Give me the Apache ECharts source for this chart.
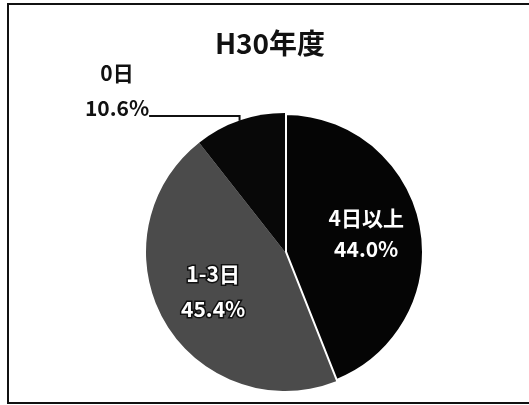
<!DOCTYPE html>
<html>
<head>
<meta charset="utf-8">
<script src="https://cdn.jsdelivr.net/npm/echarts@6/dist/echarts.min.js"></script>
<style>
	html, body { margin: 0; padding: 0; background: #fff; overflow: hidden; }
	#chart { position: absolute; left: 7px; top: 3px; width: 540px; height: 401px; border: 2px solid #111; box-sizing: border-box; }
</style>
</head>
<body>
<div id="chart"></div>
<script>
// データ
var categories = ['4日以上', '1-3日', '0日'];
var shares = [44.0, 45.4, 10.6];
var sliceColors = ['#050505', '#4b4b4b', '#080808'];
var titleText = 'H30年度';

var font = '"Noto Sans CJK JP", "Noto Sans", sans-serif';

var myChart = echarts.init(document.getElementById('chart'));

var pieData = categories.map(function (name, i) {
	var item = {
		name: name,
		value: shares[i],
		itemStyle: { color: sliceColors[i] }
	};
	if (i === 0) {
		// 4日以上 white separator
		item.itemStyle.borderColor = '#fff';
		item.itemStyle.borderWidth = 4;
	}
	if (i === 1) {
		item.label = {
			color: '#fff',
			textBorderColor: '#111',
			textBorderWidth: 3,
			lineHeight: 35
		};
	}
	if (i === 2) {
		// 0日 outside label; blank tail row puts the leader at the foot of "10.6%"
		item.label = {
			position: 'outside',
			color: '#111',
			align: 'center',
			formatter: function (p) {
				return '{a|' + p.name + '}\n{a|' + p.value.toFixed(1) + '%}\n{b| }';
			},
			rich: {
				a: { fontFamily: font, fontSize: 21, fontWeight: 'bold', color: '#111', lineHeight: 35 },
				b: { fontSize: 4, lineHeight: 50 }
			}
		};
		item.labelLine = {
			show: true,
			length: 1,
			length2: 96,
			lineStyle: { color: '#111', width: 2 }
		};
	}
	return item;
});

myChart.setOption({
	animation: false,
	title: {
		text: titleText,
		left: 256,
		top: 19,
		textAlign: 'center',
		textStyle: { fontFamily: font, fontSize: 28, fontWeight: 'bold', color: '#111' }
	},
	series: [
		{
			type: 'pie',
			center: [276, 247],
			radius: 139,
			startAngle: 90,
			clockwise: true,
			data: pieData,
			label: {
				show: true,
				position: 'inside',
				formatter: function (p) {
					return p.name + '\n' + p.value.toFixed(1) + '%';
				},
				fontFamily: font,
				fontSize: 21,
				fontWeight: 'bold',
				lineHeight: 31,
				color: '#fff'
			},
			labelLayout: function (params) {
				if (params.dataIndex === 0) {
					return { dx: 10, dy: -5 };
				}
				if (params.dataIndex === 1) {
					return { dx: -9, dy: 3 };
				}
				if (params.dataIndex === 2) {
					return { x: 108, y: 111, align: 'center', verticalAlign: 'middle' };
				}
			}
		}
	]
});
</script>
</body>
</html>
